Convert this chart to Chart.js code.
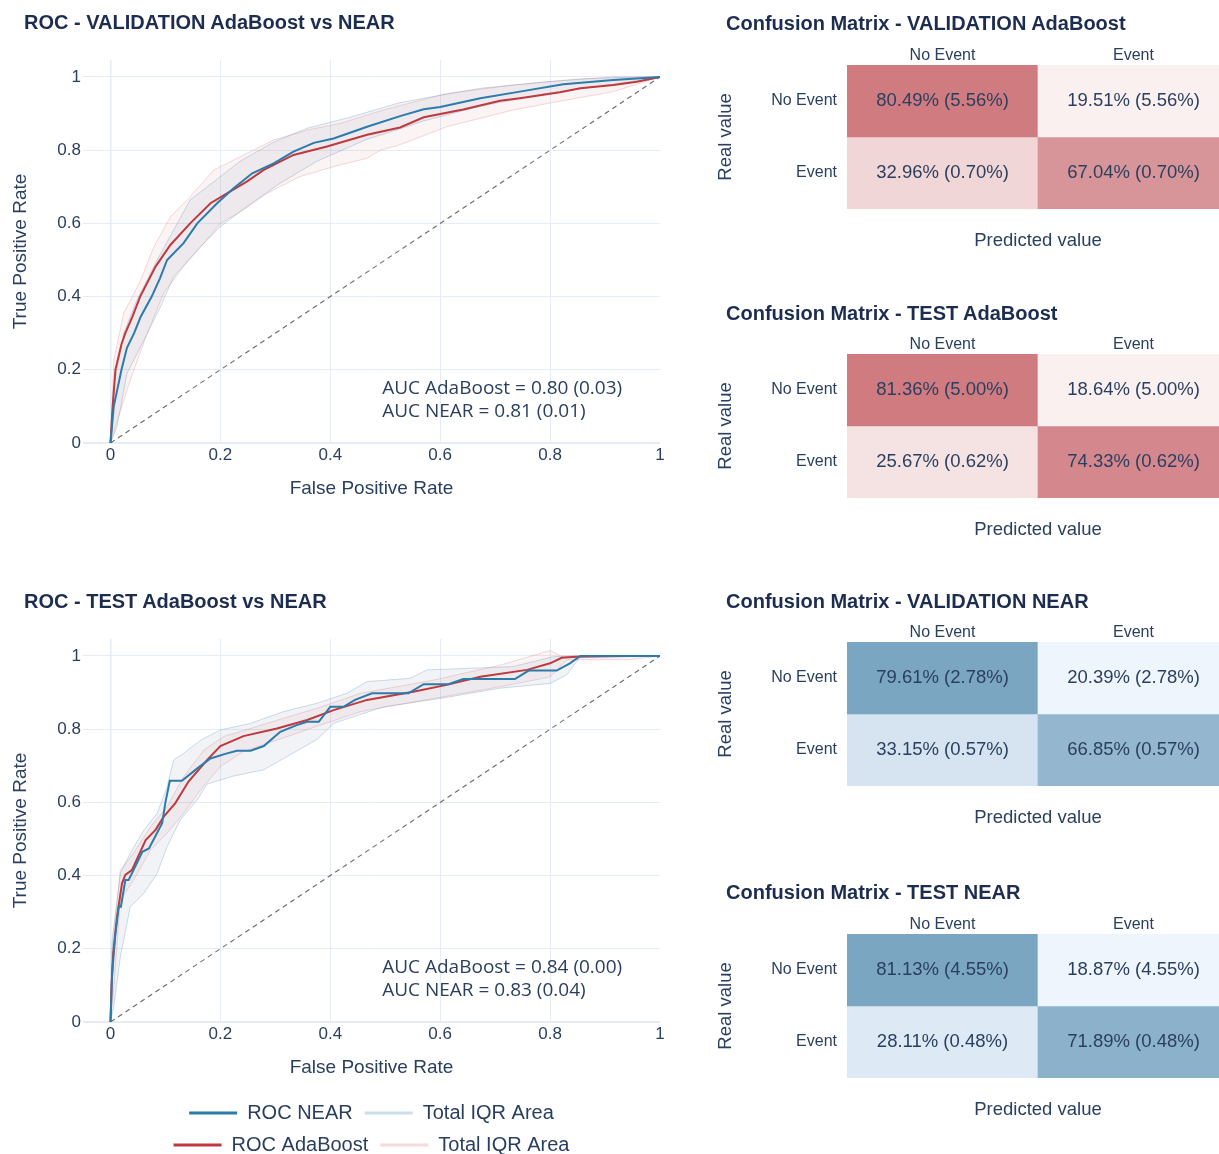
<!DOCTYPE html>
<html><head><meta charset="utf-8">
<script src="https://cdn.jsdelivr.net/npm/chart.js@4.4.1/dist/chart.umd.min.js"></script>
<style>
html,body{margin:0;padding:0;background:#fff;}
body{width:1219px;height:1154px;overflow:hidden;position:relative;font-family:"Liberation Sans",Arial,sans-serif;}
canvas{position:absolute;}
.ttl{position:absolute;font-weight:bold;font-size:20px;line-height:24px;color:#1c2d50;white-space:nowrap;z-index:2;}
</style></head><body>
<canvas id="rocVal" width="700" height="512" style="left:0;top:0;width:700px;height:512px"></canvas>
<canvas id="rocTest" width="700" height="586" style="left:0;top:579px;width:700px;height:586px"></canvas>
<canvas id="cm1" width="529" height="254" style="left:700px;top:0;width:529px;height:254px"></canvas>
<canvas id="cm2" width="529" height="254" style="left:700px;top:289px;width:529px;height:254px"></canvas>
<canvas id="cm3" width="529" height="254" style="left:700px;top:577px;width:529px;height:254px"></canvas>
<canvas id="cm4" width="529" height="254" style="left:700px;top:869px;width:529px;height:254px"></canvas>
<div class="ttl" style="left:24px;top:10px">ROC - VALIDATION AdaBoost vs NEAR</div>
<div class="ttl" style="left:24px;top:589px">ROC - TEST AdaBoost vs NEAR</div>
<div class="ttl" style="left:726px;top:11px">Confusion Matrix - VALIDATION AdaBoost</div>
<div class="ttl" style="left:726px;top:301px">Confusion Matrix - TEST AdaBoost</div>
<div class="ttl" style="left:726px;top:589px">Confusion Matrix - VALIDATION NEAR</div>
<div class="ttl" style="left:726px;top:880px">Confusion Matrix - TEST NEAR</div>
<script>
// ---------------- DATA ----------------
const X_TICKS = [0, 0.2, 0.4, 0.6, 0.8, 1];
const Y_TICKS = [0, 0.2, 0.4, 0.6, 0.8, 1];
const DIAG = [[0, 0], [1, 1]];

// Validation ROC curves [FPR, TPR]
const VAL_NEAR = [[0,0],[0.006,0.1],[0.02,0.2],[0.03,0.26],[0.043,0.3],[0.055,0.345],[0.075,0.4],[0.09,0.45],[0.103,0.5],[0.133,0.546],[0.158,0.6],[0.194,0.655],[0.224,0.696],[0.258,0.737],[0.297,0.764],[0.333,0.796],[0.37,0.82],[0.406,0.832],[0.467,0.864],[0.527,0.893],[0.57,0.912],[0.6,0.918],[0.673,0.942],[0.745,0.96],[0.824,0.98],[0.915,0.992],[1,1]];
const VAL_ADA = [[0,0],[0.004,0.1],[0.009,0.2],[0.02,0.27],[0.027,0.3],[0.04,0.345],[0.054,0.4],[0.082,0.482],[0.109,0.541],[0.145,0.6],[0.182,0.655],[0.212,0.682],[0.248,0.714],[0.279,0.746],[0.333,0.787],[0.394,0.81],[0.467,0.842],[0.527,0.862],[0.57,0.89],[0.642,0.911],[0.709,0.935],[0.745,0.942],[0.818,0.958],[0.855,0.969],[0.915,0.978],[0.958,0.987],[1,1]];
const VAL_NEAR_HI = [[0,0],[0.006,0.154],[0.024,0.3],[0.048,0.39],[0.085,0.5],[0.115,0.582],[0.145,0.664],[0.176,0.7],[0.236,0.77],[0.297,0.822],[0.358,0.86],[0.436,0.89],[0.527,0.93],[0.6,0.95],[0.673,0.969],[0.794,0.987],[0.915,1.0],[1,1]];
const VAL_NEAR_LO = [[0,0],[0.012,0.045],[0.03,0.19],[0.061,0.281],[0.091,0.372],[0.115,0.454],[0.158,0.527],[0.2,0.591],[0.248,0.646],[0.309,0.71],[0.376,0.77],[0.467,0.83],[0.527,0.858],[0.57,0.88],[0.673,0.92],[0.794,0.955],[0.915,0.98],[1,1]];
const VAL_ADA_HI = [[0,0],[0.006,0.227],[0.024,0.354],[0.055,0.445],[0.079,0.536],[0.109,0.618],[0.145,0.673],[0.188,0.746],[0.236,0.782],[0.297,0.828],[0.358,0.855],[0.418,0.873],[0.497,0.91],[0.612,0.955],[0.733,0.978],[0.855,0.995],[0.964,1.0],[1,1]];
const VAL_ADA_LO = [[0,0],[0.009,0.045],[0.036,0.172],[0.067,0.3],[0.097,0.41],[0.133,0.482],[0.164,0.536],[0.2,0.6],[0.242,0.637],[0.285,0.682],[0.345,0.728],[0.406,0.755],[0.467,0.778],[0.491,0.8],[0.527,0.815],[0.612,0.864],[0.733,0.91],[0.83,0.937],[0.915,0.96],[1,1]];

// Test ROC curves [FPR, TPR]
const TEST_NEAR = [[0,0],[0.003,0.133],[0.009,0.242],[0.015,0.315],[0.019,0.315],[0.027,0.388],[0.033,0.388],[0.039,0.406],[0.058,0.465],[0.07,0.474],[0.094,0.543],[0.1,0.6],[0.108,0.659],[0.13,0.659],[0.158,0.693],[0.182,0.72],[0.212,0.734],[0.23,0.741],[0.255,0.741],[0.279,0.754],[0.309,0.793],[0.339,0.811],[0.358,0.82],[0.379,0.82],[0.4,0.861],[0.424,0.861],[0.445,0.88],[0.476,0.898],[0.542,0.898],[0.57,0.923],[0.615,0.923],[0.642,0.937],[0.736,0.937],[0.761,0.96],[0.812,0.96],[0.836,0.98],[0.855,1.0],[1,1]];
const TEST_ADA = [[0,0],[0.002,0.1],[0.005,0.188],[0.012,0.288],[0.021,0.379],[0.027,0.402],[0.039,0.415],[0.064,0.497],[0.082,0.525],[0.097,0.561],[0.118,0.598],[0.142,0.657],[0.176,0.716],[0.2,0.754],[0.242,0.781],[0.303,0.802],[0.358,0.825],[0.406,0.852],[0.467,0.88],[0.551,0.902],[0.612,0.921],[0.673,0.943],[0.758,0.962],[0.8,0.98],[0.821,0.995],[0.848,0.998],[0.945,1.0],[1,1]];
const TEST_NEAR_HI = [[0,0],[0.003,0.224],[0.018,0.406],[0.036,0.461],[0.061,0.525],[0.085,0.57],[0.103,0.643],[0.115,0.716],[0.133,0.734],[0.164,0.77],[0.2,0.798],[0.255,0.816],[0.315,0.848],[0.376,0.871],[0.43,0.898],[0.467,0.93],[0.545,0.939],[0.576,0.962],[0.733,0.971],[0.77,0.985],[0.806,0.998],[0.848,1.0],[1,1]];
const TEST_NEAR_LO = [[0,0],[0.006,0.042],[0.018,0.178],[0.036,0.315],[0.061,0.352],[0.085,0.406],[0.103,0.479],[0.127,0.552],[0.158,0.607],[0.176,0.65],[0.224,0.672],[0.279,0.689],[0.321,0.725],[0.376,0.772],[0.406,0.816],[0.497,0.861],[0.6,0.884],[0.709,0.912],[0.8,0.925],[0.83,0.948],[0.855,0.998],[1,1]];
const TEST_ADA_HI = [[0,0],[0.003,0.2],[0.018,0.415],[0.042,0.461],[0.073,0.534],[0.103,0.588],[0.133,0.67],[0.17,0.743],[0.206,0.78],[0.255,0.802],[0.315,0.83],[0.376,0.857],[0.455,0.898],[0.588,0.934],[0.709,0.975],[0.8,1.015],[0.82,1.0],[0.945,1.0],[1,1]];
const TEST_ADA_LO = [[0,0],[0.006,0.087],[0.018,0.333],[0.042,0.388],[0.073,0.47],[0.103,0.516],[0.133,0.57],[0.164,0.634],[0.2,0.698],[0.242,0.739],[0.303,0.77],[0.364,0.802],[0.455,0.848],[0.588,0.884],[0.709,0.916],[0.8,0.943],[0.83,0.989],[0.855,0.99],[0.945,0.99],[1,1]];

// AUC [mean, sd]
const AUC_VAL_ADA = [0.80, 0.03], AUC_VAL_NEAR = [0.81, 0.01];
const AUC_TEST_ADA = [0.84, 0.00], AUC_TEST_NEAR = [0.83, 0.04];

// Confusion matrices (rows = real, cols = predicted), percent and sd
const CM_ROWS = ['No Event', 'Event'];
const CM_COLS = ['No Event', 'Event'];
const CM_VAL_ADA = [[80.49, 19.51], [32.96, 67.04]];
const CM_VAL_ADA_SD = [[5.56, 5.56], [0.70, 0.70]];
const CM_TEST_ADA = [[81.36, 18.64], [25.67, 74.33]];
const CM_TEST_ADA_SD = [[5.00, 5.00], [0.62, 0.62]];
const CM_VAL_NEAR = [[79.61, 20.39], [33.15, 66.85]];
const CM_VAL_NEAR_SD = [[2.78, 2.78], [0.57, 0.57]];
const CM_TEST_NEAR = [[81.13, 18.87], [28.11, 71.89]];
const CM_TEST_NEAR_SD = [[4.55, 4.55], [0.48, 0.48]];

// ---------------- STYLE ----------------
const FONT = '"Liberation Sans", Arial, sans-serif';
Chart.defaults.font.family = FONT;
Chart.defaults.color = '#2a3f5f';
const TXT = '#2a3f5f';
const GRID = '#e6ecf5';
const NEAR_COLOR = '#2b7bab', ADA_COLOR = '#c0393e';
const NEAR_BAND_LINE = 'rgba(60,125,175,0.25)', NEAR_BAND_FILL = 'rgba(120,140,165,0.10)';
const ADA_BAND_LINE = 'rgba(220,80,80,0.22)', ADA_BAND_FILL = 'rgba(205,130,130,0.09)';
const RED_SCALE = [[250,240,240],[207,123,128]];
const BLUE_SCALE = [[238,245,253],[123,166,194]];
const LEGEND_ORDER = [0, 4, 1, 6];

const pts = a => a.map(([x, y]) => ({x, y}));
const fmtTick = v => String(Math.round(v * 10) / 10);
const aucLine = (name, a) => `AUC ${name} = ${a[0].toFixed(2)} (${a[1].toFixed(2)})`;

function aucPlugin(lines) {
  return {
    id: 'aucText',
    afterDatasetsDraw(chart) {
      const {ctx, scales: {x, y}} = chart;
      ctx.save();
      ctx.font = '19px "Open Sans", sans-serif';
      ctx.fillStyle = TXT;
      ctx.textAlign = 'left';
      ctx.textBaseline = 'middle';
      ctx.fillText(lines[0], x.getPixelForValue(0.4945), y.getPixelForValue(0.148));
      ctx.fillText(lines[1], x.getPixelForValue(0.4945), y.getPixelForValue(0.085));
      ctx.restore();
    }
  };
}

function rocChart(id, s, aucAda, aucNear, showLegend) {
  const ds = (label, data, color, width, extra) => Object.assign({
    label, data: pts(data), borderColor: color, backgroundColor: color,
    borderWidth: width, pointRadius: 0, pointHoverRadius: 0, tension: 0, fill: false
  }, extra || {});
  return new Chart(document.getElementById(id), {
    type: 'line',
    data: {datasets: [
      ds('ROC NEAR', s.near, NEAR_COLOR, 2),
      ds('ROC AdaBoost', s.ada, ADA_COLOR, 2),
      ds('Random', DIAG, 'rgba(90,90,90,0.9)', 1.1, {borderDash: [5, 4]}),
      ds('NEAR IQR lower', s.nearLo, NEAR_BAND_LINE, 1),
      ds('Total IQR Area', s.nearHi, NEAR_BAND_LINE, 1, {fill: '-1', backgroundColor: NEAR_BAND_FILL}),
      ds('AdaBoost IQR lower', s.adaLo, ADA_BAND_LINE, 1),
      ds('Total IQR Area', s.adaHi, ADA_BAND_LINE, 1, {fill: '-1', backgroundColor: ADA_BAND_FILL})
    ]},
    options: {
      responsive: false, animation: false, devicePixelRatio: 1, events: [],
      layout: {padding: {top: 60, right: 40, left: 0, bottom: 0}},
      plugins: {
        tooltip: {enabled: false},
        legend: {
          display: showLegend, position: 'bottom', fullSize: false, align: 'center',
          labels: {
            boxWidth: 48, boxHeight: 3, padding: 12, color: TXT, font: {size: 20},
            generateLabels: chart => Chart.defaults.plugins.legend.labels.generateLabels(chart)
              .map(it => Object.assign(it, {fillStyle: it.strokeStyle, lineWidth: 0, lineDash: []})),
            filter: item => LEGEND_ORDER.includes(item.datasetIndex),
            sort: (a, b) => LEGEND_ORDER.indexOf(a.datasetIndex) - LEGEND_ORDER.indexOf(b.datasetIndex)
          }
        }
      },
      scales: {
        x: {
          type: 'linear', min: -0.05, max: 1,
          afterBuildTicks: sc => { sc.ticks = X_TICKS.map(v => ({value: v})); },
          afterFit: sc => { sc.height = 69; },
          border: {display: false},
          grid: {drawTicks: false,
            color: c => (c.tick && c.tick.value === 1) ? 'rgba(0,0,0,0)' : GRID,
            lineWidth: c => (c.tick && c.tick.value === 0) ? 1.5 : 1},
          ticks: {padding: 2, color: TXT, font: {size: 17}, maxRotation: 0, callback: v => fmtTick(v)},
          title: {display: true, text: 'False Positive Rate', color: TXT, font: {size: 19}, padding: {top: 0, bottom: 11.6}}
        },
        y: {
          type: 'linear', min: 0, max: 1.0464,
          afterBuildTicks: sc => { sc.ticks = Y_TICKS.map(v => ({value: v})); },
          afterFit: sc => { sc.width = 83; },
          border: {display: false},
          grid: {drawTicks: false, color: GRID, lineWidth: c => (c.tick && c.tick.value === 0) ? 2 : 1},
          ticks: {padding: 2, color: TXT, font: {size: 17}, callback: v => fmtTick(v)},
          title: {display: true, text: 'True Positive Rate', color: TXT, font: {size: 19}, padding: {top: 9.5, bottom: 0}}
        }
      }
    },
    plugins: [aucPlugin([aucLine('AdaBoost', aucAda), aucLine('NEAR', aucNear)])]
  });
}

const cellText = {
  id: 'cellText',
  afterDatasetsDraw(chart) {
    const {ctx} = chart;
    ctx.save();
    ctx.font = '18.5px ' + FONT;
    ctx.fillStyle = TXT;
    ctx.textAlign = 'center';
    ctx.textBaseline = 'middle';
    chart.data.datasets.forEach((d, r) => {
      chart.getDatasetMeta(r).data.forEach((bar, j) => {
        ctx.fillText(d.cellLabels[j], bar.x, (bar.y + bar.base) / 2);
      });
    });
    ctx.restore();
  }
};

function cellColor(v, vals, scale) {
  const flat = vals.flat();
  const lo = Math.min(...flat), hi = Math.max(...flat);
  const t = (v - lo) / (hi - lo);
  const c = scale[0].map((a, i) => Math.round(a + (scale[1][i] - a) * t));
  return `rgb(${c[0]},${c[1]},${c[2]})`;
}

function cmChart(id, vals, sds, scale) {
  const n = CM_ROWS.length;
  return new Chart(document.getElementById(id), {
    type: 'bar',
    data: {
      labels: CM_COLS,
      datasets: CM_ROWS.map((rowName, r) => ({
        label: rowName,
        data: CM_COLS.map(() => [n - 1 - r, n - r]),
        backgroundColor: CM_COLS.map((c, j) => cellColor(vals[r][j], vals, scale)),
        cellLabels: CM_COLS.map((c, j) => `${vals[r][j].toFixed(2)}% (${sds[r][j].toFixed(2)}%)`),
        borderWidth: 0, barPercentage: 1, categoryPercentage: 1, grouped: false
      }))
    },
    options: {
      responsive: false, animation: false, devicePixelRatio: 1, events: [],
      layout: {padding: 0},
      plugins: {legend: {display: false}, tooltip: {enabled: false}},
      scales: {
        x: {
          type: 'category', position: 'top', offset: true,
          afterFit: sc => { sc.height = 65; },
          grid: {display: false, drawTicks: false}, border: {display: false},
          ticks: {padding: 0, color: TXT, font: {size: 16}, maxRotation: 0}
        },
        x2: {
          type: 'linear', position: 'bottom', axis: 'x',
          afterFit: sc => { sc.height = 45; },
          grid: {display: false, drawTicks: false}, border: {display: false},
          ticks: {display: false},
          title: {display: true, text: 'Predicted value', color: TXT, font: {size: 18.5}, padding: {top: 0, bottom: 1.9}}
        },
        y: {
          type: 'linear', min: 0, max: n,
          afterBuildTicks: sc => { sc.ticks = CM_ROWS.map((r, i) => ({value: n - 0.5 - i})); },
          afterFit: sc => { sc.width = 147; },
          grid: {display: false, drawTicks: false}, border: {display: false},
          ticks: {padding: 10, color: TXT, font: {size: 16}, callback: v => CM_ROWS[Math.round(n - 0.5 - v)]},
          title: {display: true, text: 'Real value', color: TXT, font: {size: 18.5}, padding: {top: 14.9, bottom: 0}}
        }
      }
    },
    plugins: [cellText]
  });
}

rocChart('rocVal', {near: VAL_NEAR, ada: VAL_ADA, nearHi: VAL_NEAR_HI, nearLo: VAL_NEAR_LO, adaHi: VAL_ADA_HI, adaLo: VAL_ADA_LO}, AUC_VAL_ADA, AUC_VAL_NEAR, false);
rocChart('rocTest', {near: TEST_NEAR, ada: TEST_ADA, nearHi: TEST_NEAR_HI, nearLo: TEST_NEAR_LO, adaHi: TEST_ADA_HI, adaLo: TEST_ADA_LO}, AUC_TEST_ADA, AUC_TEST_NEAR, true);
cmChart('cm1', CM_VAL_ADA, CM_VAL_ADA_SD, RED_SCALE);
cmChart('cm2', CM_TEST_ADA, CM_TEST_ADA_SD, RED_SCALE);
cmChart('cm3', CM_VAL_NEAR, CM_VAL_NEAR_SD, BLUE_SCALE);
cmChart('cm4', CM_TEST_NEAR, CM_TEST_NEAR_SD, BLUE_SCALE);
</script>
</body></html>
